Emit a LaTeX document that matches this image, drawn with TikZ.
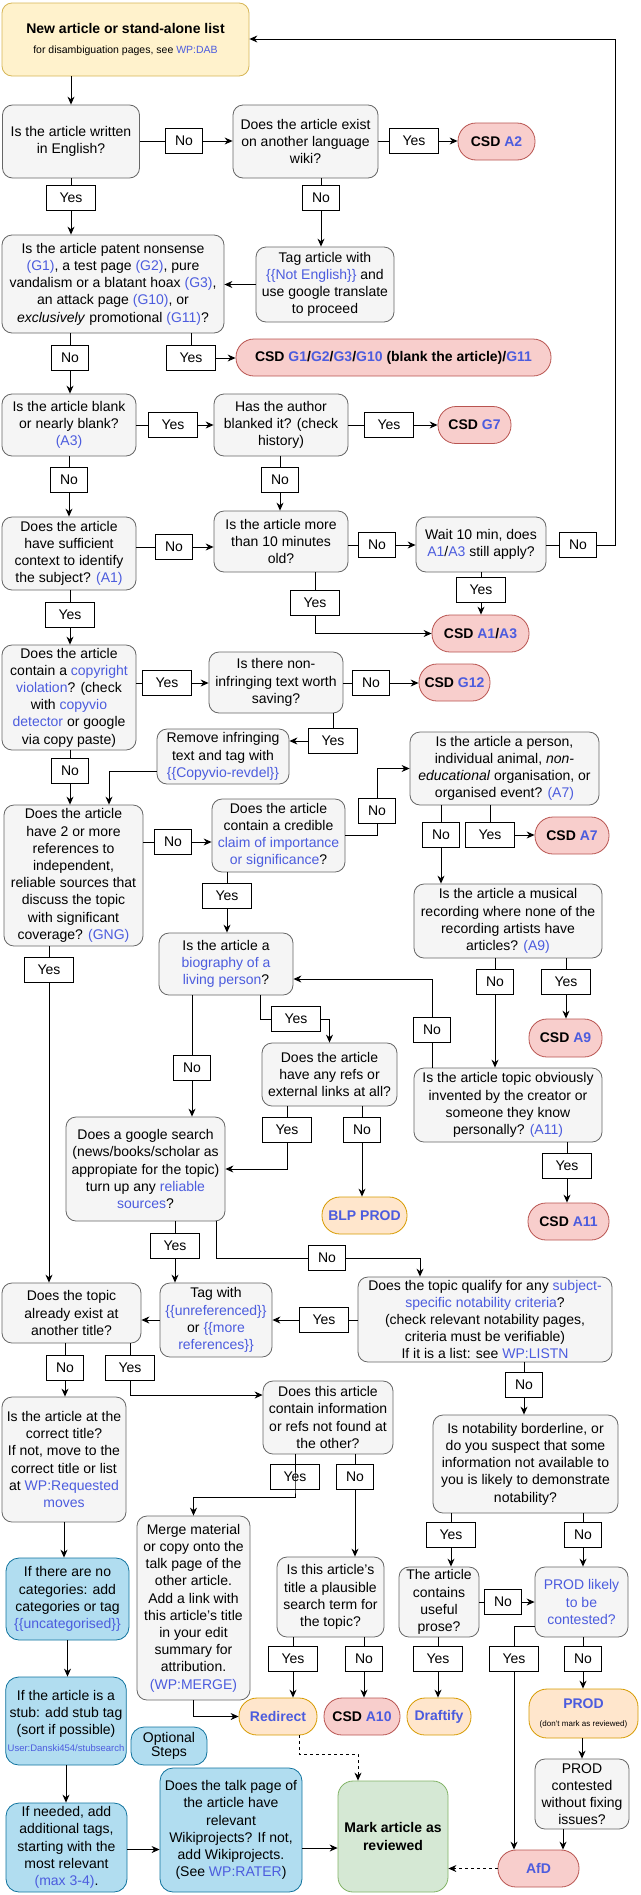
\documentclass[tikz,border=0pt]{standalone}
\usepackage{fontspec}
\setmainfont{Liberation Sans}
\usetikzlibrary{arrows.meta}
\definecolor{linkblue}{RGB}{76,92,222}
\definecolor{askfill}{HTML}{F5F5F5}
\definecolor{askdraw}{HTML}{666666}
\definecolor{csdfill}{HTML}{F8CECC}
\definecolor{csddraw}{HTML}{B85450}
\definecolor{actfill}{HTML}{FFE6CC}
\definecolor{actdraw}{HTML}{D79B00}
\definecolor{optfill}{HTML}{B1DDF0}
\definecolor{optdraw}{HTML}{10739E}
\definecolor{donefill}{HTML}{D5E8D4}
\definecolor{donedraw}{HTML}{82B366}
\definecolor{startfill}{HTML}{FFF2CC}
\definecolor{startdraw}{HTML}{D6B656}
\newcommand{\wl}[1]{\textcolor{linkblue}{#1}}

\begin{document}
\begin{tikzpicture}[
    x=1pt, y=-1pt,
    every node/.style={font=\fontsize{14}{17.2}\selectfont},
    box/.style={draw, rounded corners=10pt, align=center, inner sep=2pt, line width=0.8pt},
    ask/.style={box, fill=askfill, draw=askdraw},
    csd/.style={box, rounded corners=18pt, fill=csdfill, draw=csddraw,
                font=\fontsize{14}{17.2}\selectfont\bfseries},
    act/.style={box, rounded corners=18pt, fill=actfill, draw=actdraw,
                font=\fontsize{14}{17.2}\selectfont\bfseries},
    opt/.style={box, rounded corners=13pt, fill=optfill, draw=optdraw},
    lbl/.style={draw, fill=white, line width=0.8pt, minimum height=25pt, inner sep=0pt},
    ylbl/.style={lbl, minimum width=49pt},
    nlbl/.style={lbl, minimum width=37pt},
    arrow/.style={-{Stealth[length=8pt,width=7pt]}, line width=0.9pt},
    darrow/.style={arrow, dash pattern=on 3pt off 3pt}
]
\useasboundingbox (0,0) rectangle (640,1895);

% --- Start ---
\node[box, fill=startfill, draw=startdraw, minimum width=247pt, minimum height=73pt] (start) at (125.5,39.5)
    {\textbf{New article or stand-alone list}\\[2pt]
     {\fontsize{10.5}{13}\selectfont for disambiguation pages, see \wl{WP:DAB}}};

% --- Language ---
\node[ask, minimum width=137pt, minimum height=73pt] (q1) at (71,141.5) {Is the article written\\in English?};
\node[ask, minimum width=145pt, minimum height=73pt] (q2) at (305.5,141.5) {Does the article exist\\on another language\\wiki?};
\node[csd, minimum width=77pt, minimum height=37pt] (csda2) at (496.5,141.5) {CSD \wl{A2}};
\node[ask, minimum width=222pt, minimum height=98pt] (q3) at (113,284)
    {Is the article patent nonsense\\\wl{(G1)}, a test page \wl{(G2)}, pure\\vandalism or a blatant hoax \wl{(G3)},\\an attack page \wl{(G10)}, or\\\textit{exclusively} promotional \wl{(G11)}?};
\node[ask, minimum width=138pt, minimum height=75pt] (tag) at (325,284.5)
    {Tag article with\\\wl{\{\{Not English\}\}} and\\use google translate\\to proceed};
\node[csd, minimum width=315pt, minimum height=37pt] (csdg) at (393.5,357.5)
    {CSD \wl{G1}/\wl{G2}/\wl{G3}/\wl{G10} (blank the article)/\wl{G11}};

% --- Blank / context ---
\node[ask, minimum width=134pt, minimum height=62pt] (q4) at (69,425) {Is the article blank\\or nearly blank?\\\wl{(A3)}};
\node[ask, minimum width=134pt, minimum height=62pt] (q5) at (281,425) {Has the author\\blanked it? (check\\history)};
\node[csd, minimum width=73pt, minimum height=37pt] (csdg7) at (474.5,425) {CSD \wl{G7}};
\node[ask, minimum width=134pt, minimum height=73pt] (q6) at (69,553.5)
    {Does the article\\have sufficient\\context to identify\\the subject? \wl{(A1)}};
\node[ask, minimum width=134pt, minimum height=61pt] (q7) at (281,541.5) {Is the article more\\than 10 minutes\\old?};
\node[ask, minimum width=130pt, minimum height=55pt] (q8) at (481,544.5) {Wait 10 min, does\\\wl{A1}/\wl{A3} still apply?};
\node[csd, minimum width=97pt, minimum height=37pt] (csda13) at (480.5,633.5) {CSD \wl{A1}/\wl{A3}};
\coordinate (backup) at (615,39);

% --- Copyright ---
\node[ask, minimum width=134pt, minimum height=105pt] (q9) at (69,697.5)
    {Does the article\\contain a \wl{copyright}\\\wl{violation}? (check\\with \wl{copyvio}\\\wl{detector} or google\\via copy paste)};
\node[ask, minimum width=134pt, minimum height=61pt] (q10) at (276,682.5) {Is there non-\\infringing text worth\\saving?};
\node[csd, minimum width=71pt, minimum height=37pt] (csdg12) at (454.5,682.5) {CSD \wl{G12}};
\node[ask, minimum width=132pt, minimum height=55pt] (remove) at (223,756.5)
    {Remove infringing\\text and tag with\\\wl{\{\{Copyvio-revdel\}\}}};

% --- Notability / A7 / A9 / A11 ---
\node[ask, minimum width=139pt, minimum height=141pt] (q11) at (73.5,875.5)
    {Does the article\\have 2 or more\\references to\\independent,\\reliable sources that\\discuss the topic\\with significant\\coverage? \wl{(GNG)}};
\node[ask, minimum width=133pt, minimum height=73pt] (q13) at (278.5,835.5)
    {Does the article\\contain a credible\\\wl{claim of importance}\\\wl{or significance}?};
\node[ask, minimum width=189pt, minimum height=73pt] (q12) at (504.5,768.5)
    {Is the article a person,\\individual animal, \textit{non-}\\\textit{educational} organisation, or\\organised event? \wl{(A7)}};
\node[csd, minimum width=74pt, minimum height=37pt] (csda7) at (572,835.5) {CSD \wl{A7}};
\node[ask, minimum width=188pt, minimum height=74pt] (q14) at (508,921)
    {Is the article a musical\\recording where none of the\\recording artists have\\articles? \wl{(A9)}};
\node[ask, minimum width=134pt, minimum height=62pt] (q15) at (226,964)
    {Is the article a\\\wl{biography of a}\\\wl{living person}?};
\node[ask, minimum width=135pt, minimum height=63pt] (q17) at (329.5,1074.5)
    {Does the article\\have any refs or\\external links at all?};
\node[csd, minimum width=73pt, minimum height=38pt] (csda9) at (565.5,1038) {CSD \wl{A9}};
\node[ask, minimum width=188pt, minimum height=74pt] (q18) at (508,1105)
    {Is the article topic obviously\\invented by the creator or\\someone they know\\personally? \wl{(A11)}};
\node[ask, minimum width=159pt, minimum height=104pt] (q16) at (145.5,1169)
    {Does a google search\\(news/books/scholar as\\appropiate for the topic)\\turn up any \wl{reliable}\\\wl{sources}?};
\node[act, minimum width=85pt, minimum height=37pt] (blp) at (364.5,1215.5) {\wl{BLP PROD}};
\node[csd, minimum width=81pt, minimum height=37pt] (csda11) at (568.5,1221.5) {CSD \wl{A11}};

% --- Existing title / SNG ---
\node[ask, minimum width=139pt, minimum height=60pt] (q19) at (71.5,1313)
    {Does the topic\\already exist at\\another title?};
\node[ask, minimum width=112pt, minimum height=74pt] (q20) at (216,1320)
    {Tag with\\\wl{\{\{unreferenced\}\}}\\or \wl{\{\{more}\\\wl{references\}\}}};
\node[ask, minimum width=254pt, minimum height=85pt] (q21) at (485,1319.5)
    {Does the topic qualify for any \wl{subject-}\\\wl{specific notability criteria}?\\(check relevant notability pages,\\criteria must be verifiable)\\If it is a list: see \wl{WP:LISTN}};
\node[ask, minimum width=124pt, minimum height=125pt] (q22) at (64,1459.5)
    {Is the article at the\\correct title?\\If not, move to the\\correct title or list\\at \wl{WP:Requested}\\\wl{moves}};
\node[ask, minimum width=130pt, minimum height=73pt] (q23) at (328,1417.5)
    {Does this article\\contain information\\or refs not found at\\the other?};
\node[ask, minimum width=185pt, minimum height=98pt] (q24) at (525.5,1464)
    {Is notability borderline, or\\do you suspect that some\\information not available to\\you is likely to demonstrate\\notability?};
\node[ask, minimum width=113pt, minimum height=184pt] (merge) at (193.5,1608)
    {Merge material\\or copy onto the\\talk page of the\\other article.\\Add a link with\\this article's title\\in your edit\\summary for\\attribution.\\\wl{(WP:MERGE)}};
\node[ask, minimum width=107pt, minimum height=80pt] (q25) at (330.5,1597)
    {Is this article's\\title a plausible\\search term for\\the topic?};
\node[ask, minimum width=80pt, minimum height=70pt] (q26) at (439,1602)
    {The article\\contains\\useful\\prose?};
\node[ask, minimum width=93pt, minimum height=70pt] (q27) at (581.5,1602)
    {\wl{PROD likely}\\\wl{to be}\\\wl{contested?}};

% --- Outcomes ---
\node[act, minimum width=78pt, minimum height=37pt] (redirect) at (278,1716.5) {\wl{Redirect}};
\node[csd, minimum width=76pt, minimum height=37pt] (csda10) at (362,1716.5) {CSD \wl{A10}};
\node[act, minimum width=64pt, minimum height=37pt] (draftify) at (439,1716.5) {\wl{Draftify}};
\node[act, minimum width=109pt, minimum height=49pt] (prod) at (583.5,1713.5)
    {\wl{PROD}\\[1pt]{\fontsize{8}{10}\selectfont\mdseries (don't mark as reviewed)}};
\node[ask, minimum width=94pt, minimum height=70pt] (q28) at (582,1794)
    {PROD\\contested\\without fixing\\issues?};
\node[csd, minimum width=81pt, minimum height=37pt] (afd) at (538.5,1868.5) {\wl{AfD}};
\node[box, rounded corners=15pt, fill=donefill, draw=donedraw, minimum width=110pt, minimum height=111pt,
      font=\fontsize{14}{17.2}\selectfont\bfseries] (mark) at (393,1836.5) {Mark article as\\reviewed};

% --- Optional steps ---
\node[opt, minimum width=123pt, minimum height=82pt] (b1) at (67.5,1599)
    {If there are no\\categories: add\\categories or tag\\\wl{\{\{uncategorised\}\}}};
\node[opt, minimum width=120pt, minimum height=88pt] (b2) at (66,1721)
    {If the article is a\\stub: add stub tag\\(sort if possible)\\{\fontsize{9.5}{12}\selectfont\wl{User:Danski454/stubsearch}}};
\node[opt, minimum width=76pt, minimum height=38pt, font=\fontsize{14}{14}\selectfont] (optional) at (169,1746)
    {Optional\\Steps};
\node[opt, minimum width=121pt, minimum height=89pt] (b3) at (66.5,1847.5)
    {If needed, add\\additional tags,\\starting with the\\most relevant\\\wl{(max 3-4)}.};
\node[opt, minimum width=142pt, minimum height=124pt] (b4) at (231,1830)
    {Does the talk page of\\the article have\\relevant\\Wikiprojects? If not,\\add Wikiprojects.\\(See \wl{WP:RATER})};

% --- Yes / No labels ---
\node[nlbl] (no1) at (184,141) {No};
\node[ylbl] (yes2) at (414,141) {Yes};
\node[ylbl] (yes1) at (71,198) {Yes};
\node[nlbl] (no2) at (321,198) {No};
\node[nlbl] (no3) at (70,358) {No};
\node[ylbl] (yes3) at (191,358) {Yes};
\node[ylbl] (yes4) at (173,425) {Yes};
\node[ylbl] (yes5) at (389,425) {Yes};
\node[nlbl] (no4) at (69,480) {No};
\node[nlbl] (no5) at (280,480) {No};
\node[nlbl] (no6) at (174,547) {No};
\node[nlbl] (no7) at (377,545) {No};
\node[nlbl] (no8) at (578,545) {No};
\node[ylbl] (yes8) at (481,590) {Yes};
\node[ylbl] (yes7) at (315,603) {Yes};
\node[ylbl] (yes6) at (70,615) {Yes};
\node[ylbl] (yes9) at (167,683) {Yes};
\node[nlbl] (no10) at (371,683) {No};
\node[ylbl] (yes10) at (333,741) {Yes};
\node[nlbl] (no9) at (70,771) {No};
\node[nlbl] (no11) at (173,842) {No};
\node[nlbl] (no13) at (377,811) {No};
\node[nlbl] (no12) at (441,835) {No};
\node[ylbl] (yes12) at (490,835) {Yes};
\node[ylbl] (yes13) at (227,896) {Yes};
\node[ylbl] (yes11) at (49,970) {Yes};
\node[nlbl] (no14) at (495,982) {No};
\node[ylbl] (yes14) at (566,982) {Yes};
\node[ylbl] (yes15) at (296,1019) {Yes};
\node[nlbl] (no18) at (432,1030) {No};
\node[nlbl] (no15) at (192,1068) {No};
\node[ylbl] (yes17) at (287,1130) {Yes};
\node[nlbl] (no17) at (362,1130) {No};
\node[ylbl] (yes18) at (567,1166) {Yes};
\node[ylbl] (yes16) at (175,1246) {Yes};
\node[nlbl] (no16) at (327,1258) {No};
\node[ylbl] (yes21) at (324,1320) {Yes};
\node[nlbl] (no19) at (65,1368) {No};
\node[ylbl] (yes19) at (130,1368) {Yes};
\node[nlbl] (no21) at (524,1385) {No};
\node[ylbl] (yes23) at (295,1477) {Yes};
\node[nlbl] (no23) at (355,1477) {No};
\node[ylbl] (yes24) at (451,1535) {Yes};
\node[nlbl] (no24) at (583,1535) {No};
\node[nlbl] (no26) at (503,1602) {No};
\node[ylbl] (yes25) at (293,1659) {Yes};
\node[nlbl] (no25) at (364,1659) {No};
\node[ylbl] (yes26) at (438,1659) {Yes};
\node[ylbl] (yes27) at (514,1659) {Yes};
\node[nlbl] (no27) at (583,1659) {No};

% --- Connectors: top part ---
\draw[arrow] (q1 |- start.south) -- (q1.north);
\draw[arrow] (q1.east |- no1) -- (no1) -- (q2.west |- no1);
\draw[arrow] (q2.east |- yes2) -- (yes2) -- (csda2.west |- yes2);
\draw[arrow] (q1.south -| yes1) -- (yes1) -- (q3.north -| yes1);
\draw[arrow] (q2.south -| no2) -- (no2) -- (tag.north -| no2);
\draw[arrow] (tag.west) -- (q3.east |- tag.west);
\draw[arrow] (q3.south -| no3) -- (no3) -- (q4.north -| no3);
\draw[arrow] (q3.south -| yes3) -- (yes3) -- (csdg.west |- yes3);
\draw[arrow] (q4.east |- yes4) -- (yes4) -- (q5.west |- yes4);
\draw[arrow] (q5.east |- yes5) -- (yes5) -- (csdg7.west |- yes5);
\draw[arrow] (q4.south -| no4) -- (no4) -- (q6.north -| no4);
\draw[arrow] (q5.south -| no5) -- (no5) -- (q7.north -| no5);
\draw[arrow] (q6.east |- no6) -- (no6) -- (q7.west |- no6);
\draw[arrow] (q7.east |- no7) -- (no7) -- (q8.west |- no7);
\draw[arrow] (q8.east |- no8) -- (no8) -| (backup) -- (start.east |- backup);
\draw[arrow] (q8.south -| yes8) -- (yes8) -- (csda13.north -| yes8);
\draw[arrow] (q7.south -| yes7) -- (yes7) |- (csda13.west);
\draw[arrow] (q6.south -| yes6) -- (yes6) -- (q9.north -| yes6);

% --- Connectors: copyright ---
\draw[arrow] (q9.east |- yes9) -- (yes9) -- (q10.west |- yes9);
\draw[arrow] (q10.east |- no10) -- (no10) -- (csdg12.west |- no10);
\draw[arrow] (q10.south -| yes10) -- (yes10) -- (remove.east |- yes10);
\draw[arrow] ([yshift=-14.5pt]remove.west) -| ([xshift=35.5pt]q11.north);
\draw[arrow] (q9.south -| no9) -- (no9) -- (q11.north -| no9);

% --- Connectors: middle part ---
\draw[arrow] (q11.east |- no11) -- (no11) -- (q13.west |- no11);
\draw[arrow] (q13.east) -| (no13) |- (q12.west);
\draw[arrow] (q12.south -| no12) -- (no12) -- (q14.north -| no12);
\draw[arrow] (q12.south -| yes12) -- (yes12) -- (csda7.west |- yes12);
\draw[arrow] (q13.south -| yes13) -- (yes13) -- (q15.north -| yes13);
\draw[arrow] (q11.south -| yes11) -- (yes11) -- (q19.north -| yes11);
\draw[arrow] ([xshift=34pt]q15.south) |- (yes15) -| (q17.north);
\draw[arrow] (q15.south -| no15) -- (no15) -- (q16.north -| no15);
\draw[arrow] (q17.south -| yes17) -- (yes17) |- (q16.east);
\draw[arrow] (q17.south -| no17) -- (no17) -- (blp.north -| no17);
\draw[arrow] (q14.south -| no14) -- (no14) -- (q18.north -| no14);
\draw[arrow] (q14.south -| yes14) -- (yes14) -- (csda9.north -| yes14);
\draw[arrow] (q18.north -| no18) -- (no18) |- ([yshift=-15pt]q15.east);
\draw[arrow] (q18.south -| yes18) -- (yes18) -- (csda11.north -| yes18);
\draw[arrow] (q16.south -| yes16) -- (yes16) -- (q20.north -| yes16);
\draw[arrow] ([xshift=70.5pt]q16.south) |- (no16) -| ([xshift=-65pt]q21.north);

% --- Connectors: lower part ---
\draw[arrow] (q21.west |- yes21) -- (yes21) -- (q20.east |- yes21);
\draw[arrow] (q20.west) -- (q19.east |- q20.west);
\draw[arrow] (q21.south -| no21) -- (no21) -- (q24.north -| no21);
\draw[arrow] (q19.south -| no19) -- (no19) -- (q22.north -| no19);
\draw[arrow] (q19.south -| yes19) -- (yes19) |- ([yshift=22.5pt]q23.west);
\draw[arrow] (q23.south -| yes23) -- (yes23.south) -- ++(0,8) -| (merge.north);
\draw[arrow] (q23.south -| no23) -- (no23) -- (q25.north -| no23);
\draw[arrow] (q22.south) -- (q22.south |- b1.north);
\draw[arrow] (q24.south -| yes24) -- (yes24) -- (q26.north -| yes24);
\draw[arrow] (q24.south -| no24) -- (no24) -- (q27.north -| no24);
\draw[arrow] (q26.east |- no26) -- (no26) -- (q27.west |- no26);
\draw[arrow] (q25.south -| yes25) -- (yes25) -- (redirect.north -| yes25);
\draw[arrow] (q25.south -| no25) -- (no25) -- (csda10.north -| no25);
\draw[arrow] (q26.south -| yes26) -- (yes26) -- (draftify.north -| yes26);
\draw[arrow] ([yshift=-24pt]q27.west) -| (yes27) -- (afd.north -| yes27);
\draw[arrow] (q27.south -| no27) -- (no27) -- (prod.north -| no27);
\draw[arrow] (merge.south) |- (redirect.west);
\draw[darrow] ([xshift=21pt]redirect.south) -- ++(0,19) -| ([xshift=-35pt]mark.north);
\draw[arrow] (prod.south -| q28) -- (q28.north);
\draw[arrow] ([xshift=-19pt]q28.south) -- ([xshift=-19pt]q28.south |- afd.north);
\draw[darrow] (afd.west) -- (afd.west -| mark.east);

% --- Optional steps chain ---
\draw[arrow] (b1.south) -- (b1.south |- b2.north);
\draw[arrow] (b2.south) -- (b2.south |- b3.north);
\draw[arrow] ([yshift=-2pt]b3.east) -- ([yshift=-2pt]b3.east -| b4.west);
\draw[arrow] ([yshift=-18pt]b4.east) -- ([yshift=-18pt]b4.east -| mark.west);

\end{tikzpicture}
\end{document}
